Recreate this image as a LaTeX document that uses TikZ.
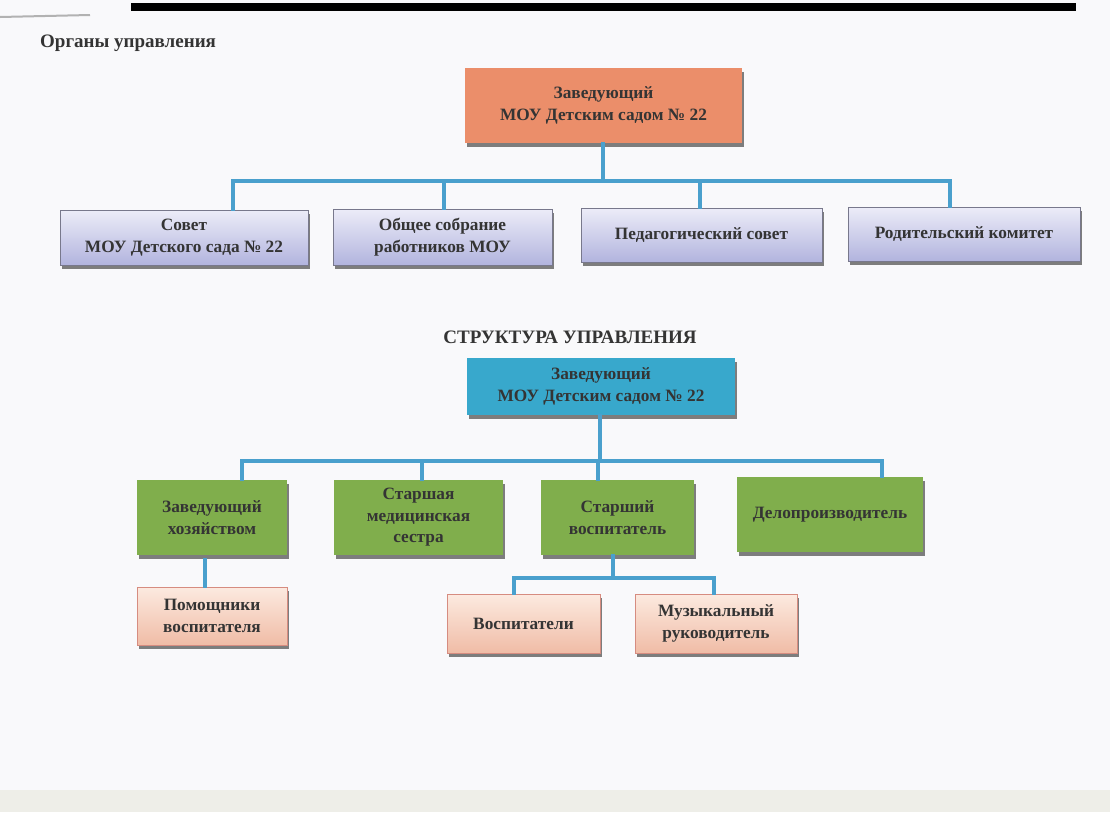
\documentclass[tikz,border=0pt]{standalone}
\usepackage{fontspec}
\setmainfont{Liberation Serif}
\usetikzlibrary{shadows}
\definecolor{bgc}{RGB}{249,249,251}
\definecolor{bandc}{RGB}{238,238,232}
\definecolor{orangec}{RGB}{235,142,106}
\definecolor{lavtop}{RGB}{236,236,248}
\definecolor{lavbot}{RGB}{178,180,222}
\definecolor{lavline}{RGB}{120,120,140}
\definecolor{bluec}{RGB}{56,168,204}
\definecolor{greenc}{RGB}{128,174,76}
\definecolor{peachtop}{RGB}{252,234,224}
\definecolor{peachbot}{RGB}{240,188,166}
\definecolor{peachline}{RGB}{214,140,128}
\definecolor{linec}{RGB}{74,160,205}
\definecolor{txtc}{RGB}{52,52,52}
\definecolor{shadc}{RGB}{125,125,125}
\tikzset{
  box/.style={rectangle, inner sep=0pt, align=center, text=txtc,
    font=\fontsize{17.3}{21.5}\selectfont\bfseries,
    drop shadow={shadow xshift=2pt, shadow yshift=-4pt, fill=shadc, opacity=1}},
  orangebox/.style={box, fill=orangec},
  lavbox/.style={box, draw=lavline, line width=0.6pt, top color=lavtop, bottom color=lavbot},
  bluebox/.style={box, fill=bluec},
  greenbox/.style={box, fill=greenc},
  peachbox/.style={box, draw=peachline, line width=0.6pt, top color=peachtop, bottom color=peachbot},
  conn/.style={draw=linec, line width=3.2pt, line cap=rect},
  ttl/.style={text=txtc, font=\fontsize{19}{22}\selectfont\bfseries, inner sep=0pt}
}
\begin{document}
\begin{tikzpicture}[x=1pt,y=-1pt]
\useasboundingbox (0,0) rectangle (1110,812);
\fill[bgc] (0,0) rectangle (1110,812);
\fill[bandc] (0,790) rectangle (1110,812);
\fill[black] (131,3) rectangle (1076,11);
\draw[gray!60, line width=2pt] (0,17) -- (90,15);

% Titles
\node[ttl, anchor=west] (t1) at (40,43) {Органы управления};
\node[ttl] (t2) at (570,337) {СТРУКТУРА УПРАВЛЕНИЯ};

% Top block
\node[orangebox, minimum width=277pt, minimum height=75pt] (d1) at (603.5,105.5) {Заведующий\\МОУ Детским садом № 22};
\node[lavbox, minimum width=248pt, minimum height=55pt] (c1) at (184,237.5) {Совет\\МОУ Детского сада № 22};
\node[lavbox, minimum width=219pt, minimum height=56pt] (c2) at (442.5,237) {Общее собрание\\работников МОУ};
\node[lavbox, minimum width=241pt, minimum height=54pt] (c3) at (701.5,235) {Педагогический совет};
\node[lavbox, minimum width=232pt, minimum height=54pt] (c4) at (964,234) {Родительский комитет};

\coordinate (ba) at (233,181);
\coordinate (bb) at (444,181);
\coordinate (bc) at (700,181);
\coordinate (bd) at (950,181);
\coordinate (bm) at (603,181);
\draw[conn] (d1.south -| bm) -- (bm);
\draw[conn] (ba) -- (bd);
\draw[conn] (ba) -- (ba |- c1.north);
\draw[conn] (bb) -- (bb |- c2.north);
\draw[conn] (bc) -- (bc |- c3.north);
\draw[conn] (bd) -- (bd |- c4.north);

% Structure block
\node[bluebox, minimum width=268pt, minimum height=57pt] (d2) at (601,386.5) {Заведующий\\МОУ Детским садом № 22};
\node[greenbox, minimum width=150pt, minimum height=75pt] (g1) at (212,517.5) {Заведующий\\хозяйством};
\node[greenbox, minimum width=169pt, minimum height=75pt] (g2) at (418.5,517.5) {Старшая\\медицинская\\сестра};
\node[greenbox, minimum width=153pt, minimum height=75pt] (g3) at (617.5,517.5) {Старший\\воспитатель};
\node[greenbox, minimum width=186pt, minimum height=75pt] (g4) at (830,514.5) {Делопроизводитель};

\coordinate (ga) at (242,461);
\coordinate (gb) at (422,461);
\coordinate (gc) at (598,461);
\coordinate (gd) at (882,461);
\coordinate (gm) at (600,461);
\draw[conn] (d2.south -| gm) -- (gm);
\draw[conn] (ga) -- (gd);
\draw[conn] (ga) -- (ga |- g1.north);
\draw[conn] (gb) -- (gb |- g2.north);
\draw[conn] (gc) -- (gc |- g3.north);
\draw[conn] (gd) -- (gd |- g4.north);

\node[peachbox, minimum width=150pt, minimum height=58pt] (p1) at (212,616) {Помощники\\воспитателя};
\node[peachbox, minimum width=153pt, minimum height=59pt] (p2) at (523.5,623.5) {Воспитатели};
\node[peachbox, minimum width=162pt, minimum height=59pt] (p3) at (716,623.5) {Музыкальный\\руководитель};

\coordinate (pa) at (205,560);
\draw[conn] (pa) -- (pa |- p1.north);
\coordinate (pm) at (613,578);
\coordinate (pl) at (514,578);
\coordinate (pr) at (714,578);
\draw[conn] (g3.south -| pm) -- (pm);
\draw[conn] (pl) -- (pr);
\draw[conn] (pl) -- (pl |- p2.north);
\draw[conn] (pr) -- (pr |- p3.north);
\end{tikzpicture}
\end{document}
